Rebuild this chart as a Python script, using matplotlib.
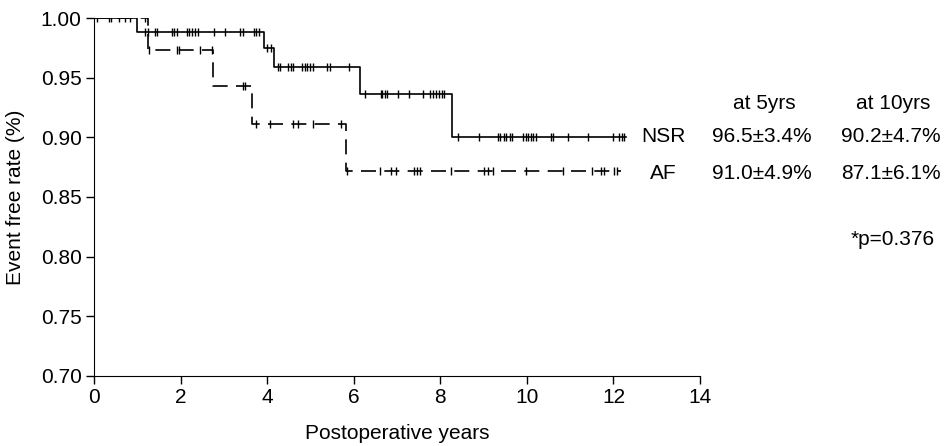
import numpy as np
import matplotlib
matplotlib.use("Agg")
import matplotlib.pyplot as plt

plt.rcParams['font.family'] = ['Liberation Sans', 'DejaVu Sans']

# Kaplan-Meier steps
nsr_times = [0, 1.0, 3.92, 4.16, 6.14, 8.26, 12.29]
nsr_surv = [1.0, 0.9885, 0.9746, 0.959, 0.9366, 0.9005, 0.9005]
af_times = [0, 1.24, 2.75, 3.66, 5.81, 12.17]
af_surv = [1.0, 0.973, 0.943, 0.911, 0.872, 0.872]

# censored observations (years)
nsr_censor = [0.08, 0.35, 0.39, 0.58, 0.71, 0.83,
              1.18, 1.25, 1.41, 1.46, 1.79, 1.85, 1.92, 2.14, 2.20, 2.26, 2.33,
              2.41, 2.78, 3.02, 3.37, 3.43, 3.69, 3.75, 3.81,
              4.0, 4.08,
              4.25, 4.29, 4.48, 4.54, 4.60, 4.81, 4.87, 4.92, 4.98, 5.05, 5.39,
              5.44, 5.88,
              6.27, 6.62, 6.66, 6.72, 6.77, 7.03, 7.27, 7.60, 7.77, 7.83, 7.91,
              7.97, 8.03, 8.09,
              8.40, 8.90, 9.33, 9.38, 9.46, 9.52, 9.60, 9.66, 9.90, 9.97, 10.03,
              10.09, 10.15, 10.21, 10.56, 10.61, 10.96, 11.42, 12.00, 12.13,
              12.19, 12.25]
af_censor = [1.18, 1.28, 1.91, 1.97, 2.45, 2.72, 3.43, 3.48,
             3.74, 4.06, 4.60, 4.71, 5.06, 5.71,
             5.84, 6.60, 6.87, 6.98, 7.40, 7.46, 7.52, 8.25, 9.0, 9.10, 9.21,
             9.98, 10.83, 11.50, 11.71, 11.79, 12.02, 12.09]

groups = ['NSR', 'AF']
at5 = ['96.5±3.4%', '91.0±4.9%']
at10 = ['90.2±4.7%', '87.1±6.1%']
p_text = '*p=0.376'


def surv_at(t, times, surv):
    i = np.searchsorted(times, t, side='right') - 1
    return np.array(surv)[i]


fig = plt.figure(figsize=(9.44, 4.46), dpi=100)
ax = fig.add_axes([0.0996, 0.157, 0.6420, 0.8026])

ax.step(nsr_times, nsr_surv, where='post', color='black', lw=1.2)
ax.step(af_times, af_surv, where='post', color='black', lw=1.2,
        dashes=(9, 5))
ax.plot(nsr_censor, surv_at(nsr_censor, nsr_times, nsr_surv), ls='none',
        marker='|', ms=6, mew=1.0, color='black')
ax.plot(af_censor, surv_at(af_censor, af_times, af_surv), ls='none',
        marker='|', ms=6, mew=1.0, color='black')

ax.set_xlim(0, 14)
ax.set_ylim(0.70, 1.00)
ax.set_xticks(np.arange(0, 15, 2))
ax.set_yticks(np.arange(0.70, 1.001, 0.05))
ax.set_yticklabels(['%.2f' % v for v in np.arange(0.70, 1.001, 0.05)])
ax.spines['top'].set_visible(False)
ax.spines['right'].set_visible(False)
ax.tick_params(direction='out', length=6, width=1, labelsize=15, pad=3)
ax.set_xlabel('Postoperative years', fontsize=15, labelpad=12)
ax.set_ylabel('Event free rate (%)', fontsize=15, labelpad=11)

fs = 15
fig.text(0.810, 0.769, 'at 5yrs', ha='center', va='center', fontsize=fs)
fig.text(0.946, 0.769, 'at 10yrs', ha='center', va='center', fontsize=fs)
rows_y = [0.695, 0.612]
for g, a, b, yy in zip(groups, at5, at10, rows_y):
    fig.text(0.703, yy, g, ha='center', va='center', fontsize=fs)
    fig.text(0.807, yy, a, ha='center', va='center', fontsize=fs)
    fig.text(0.944, yy, b, ha='center', va='center', fontsize=fs)
fig.text(0.946, 0.462, p_text, ha='center', va='center', fontsize=fs)

fig.savefig('out.png', dpi=100)
